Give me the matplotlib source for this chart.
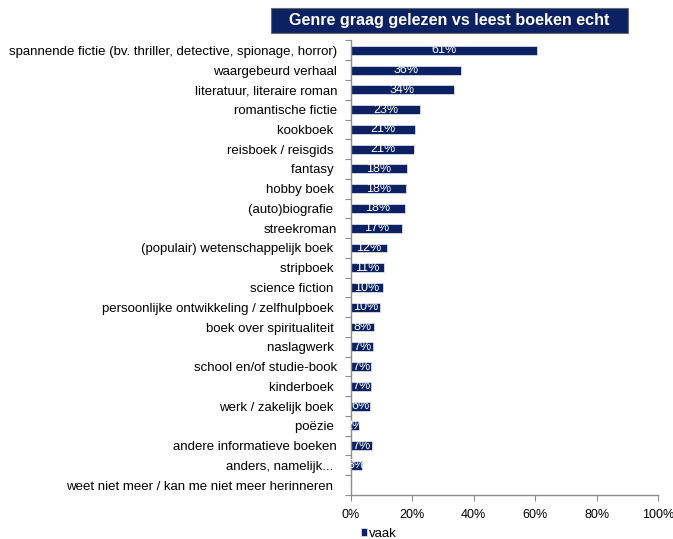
import matplotlib
matplotlib.use("Agg")
import matplotlib.pyplot as plt
from matplotlib.patches import Rectangle
import numpy as np

plt.rcParams['font.family'] = ['Liberation Sans', 'DejaVu Sans']

categories = [
    "spannende fictie (bv. thriller, detective, spionage, horror)",
    "waargebeurd verhaal",
    "literatuur, literaire roman",
    "romantische fictie",
    "kookboek ",
    "reisboek / reisgids ",
    "fantasy ",
    "hobby boek ",
    "(auto)biografie ",
    "streekroman",
    "(populair) wetenschappelijk boek ",
    "stripboek ",
    "science fiction ",
    "persoonlijke ontwikkeling / zelfhulpboek ",
    "boek over spiritualiteit ",
    "naslagwerk ",
    "school en/of studie-book",
    "kinderboek ",
    "werk / zakelijk boek ",
    "poëzie ",
    "andere informatieve boeken",
    "anders, namelijk... ",
    "weet niet meer / kan me niet meer herinneren ",
]
values = [60.6, 35.7, 33.6, 22.6, 20.7, 20.5, 18.1, 17.8, 17.6, 16.5, 11.6,
          10.6, 10.3, 9.6, 7.6, 7.2, 6.6, 6.6, 6.2, 2.5, 6.7, 3.5, 0.0]
labels = ["61%", "36%", "34%", "23%", "21%", "21%", "18%", "18%", "18%", "17%", "12%",
          "11%", "10%", "10%", "8%", "7%", "7%", "7%", "6%", "2%", "7%", "3%", "0%"]
xticks = [0, 20, 40, 60, 80, 100]
xticklabels = ["0%", "20%", "40%", "60%", "80%", "100%"]
title = "Genre graag gelezen vs leest boeken echt"
legend_label = "vaak"

navy = "#0b2161"
grey = "#8c8c8c"

fig = plt.figure(figsize=(6.73, 5.39), dpi=100)
ax = fig.add_axes([351/673, 1 - 495/539, 307/673, (495 - 40.5)/539])

n = len(categories)
y = np.arange(n)
bars = ax.barh(y, values, height=0.45, color=navy, edgecolor="#e8ebf2",
               linewidth=0.5, label=legend_label)
for yi, v, lab in zip(y, values, labels):
    if v > 0:
        ax.text(v / 2, yi, lab, ha="center", va="center", color="white",
                fontsize=9, clip_on=True)

ax.set_ylim(n - 0.5, -0.5)
ax.set_xlim(0, 100)
ax.set_yticks(y)
ax.set_yticklabels(categories, fontsize=9.5, color="black")
ax.tick_params(axis="y", length=0, pad=10)
ax.set_yticks(np.arange(-0.5, n, 1), minor=True)
ax.tick_params(axis="y", which="minor", length=4, color=grey, width=0.8)
ax.set_xticks(xticks)
ax.set_xticklabels(xticklabels, fontsize=9, color="black")
ax.tick_params(axis="x", length=4, color=grey, width=0.8, pad=6)

for s in ["top", "right"]:
    ax.spines[s].set_visible(False)
for s in ["left", "bottom"]:
    ax.spines[s].set_color(grey)
    ax.spines[s].set_linewidth(1.0)

# Title box
fig.patches.append(Rectangle((271/673, 1 - 33/539), (628 - 271)/673, 25/539,
                             transform=fig.transFigure, facecolor=navy,
                             edgecolor="#6b6b6b", linewidth=0.8, zorder=5))
fig.text((271 + 628) / 2 / 673, 1 - 20.5/539, title, ha="center", va="center",
         color="white", fontsize=11.6, fontweight="bold", zorder=6)

# Legend
leg = fig.legend(handles=[bars], labels=[legend_label], loc="center",
                 bbox_to_anchor=(379/673, 1 - 534/539), frameon=False,
                 fontsize=9.5, handlelength=0.45, handleheight=0.55, handletextpad=0.2,
                 borderpad=0, borderaxespad=0)

fig.savefig("out.png", dpi=100, facecolor="white")
